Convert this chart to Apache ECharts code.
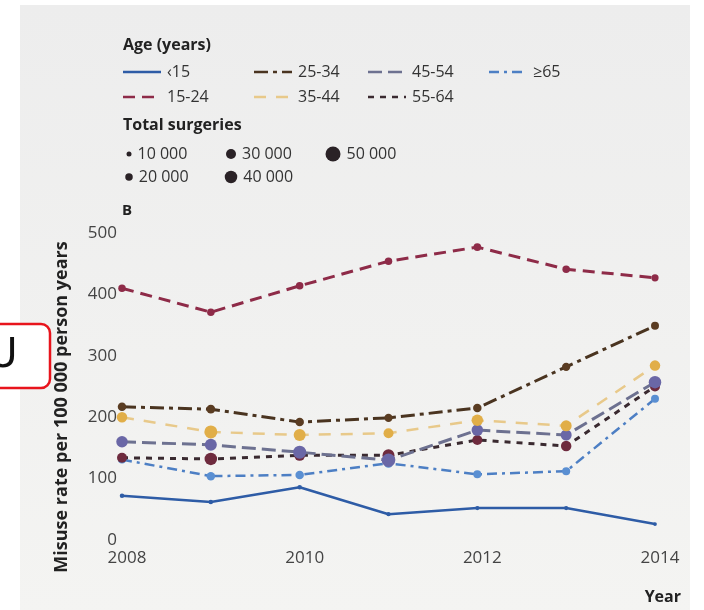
<!DOCTYPE html>
<html>
<head>
<meta charset="utf-8">
<script src="https://cdn.jsdelivr.net/npm/echarts@6/dist/echarts.min.js"></script>
<style>
  html, body { margin: 0; padding: 0; background: #ffffff; }
  #chart { width: 704px; height: 610px; }
</style>
</head>
<body>
<div id="chart"></div>
<script>
// Years on the x axis
const years = [2008, 2009, 2010, 2011, 2012, 2013, 2014];

// Misuse rate per 100 000 person years, by age band
const rateUnder15 = [72, 62, 86, 42, 52, 52, 26];
const rate15to24 = [410, 371, 414, 454, 477, 441, 427];
const rate25to34 = [217, 213, 192, 199, 215, 282, 349];
const rate35to44 = [200, 176, 171, 174, 195, 186, 284];
const rate45to54 = [160, 155, 143, 130, 179, 171, 257];
const rate55to64 = [134, 132, 138, 138, 163, 153, 250];
const rate65plus = [131, 104, 106, 125, 107, 112, 230];

// Total surgeries behind each point (thousands)
const surgUnder15 = [8, 8, 8, 7, 7, 7, 5];
const surg15to24 = [20, 20, 20, 20, 21, 20, 19];
const surg25to34 = [24, 25, 24, 23, 24, 23, 22];
const surg35to44 = [32, 42, 38, 30, 36, 34, 32];
const surg45to54 = [36, 38, 42, 44, 36, 34, 40];
const surg55to64 = [30, 40, 34, 38, 30, 32, 30];
const surg65plus = [22, 24, 24, 26, 22, 22, 22];

// Axis ticks
const yTicks = [0, 100, 200, 300, 400, 500];
const xTicks = [2008, 2010, 2012, 2014];

// Size key values (surgeries)
const sizeKey = [10000, 20000, 30000, 40000, 50000];

const FONT = '"Open Sans", "Noto Sans", sans-serif';

// diameter of a point for a number of surgeries given in thousands
function dotSize(k) { return 2.5 + 0.25 * k; }

const groups = [
  { name: '‹15',   rate: rateUnder15, surg: surgUnder15, line: '#2e5ca6', dot: '#2e5ca6', dash: 'solid',        width: 2.5 },
  { name: '15-24', rate: rate15to24,  surg: surg15to24,  line: '#8e2b48', dot: '#8e2b48', dash: [12, 7],        width: 3 },
  { name: '25-34', rate: rate25to34,  surg: surg25to34,  line: '#4a3420', dot: '#5a3c22', dash: [14, 5, 4, 5],  width: 3 },
  { name: '35-44', rate: rate35to44,  surg: surg35to44,  line: '#e8c98a', dot: '#e1ae48', dash: [12, 10],       width: 2.5 },
  { name: '45-54', rate: rate45to54,  surg: surg45to54,  line: '#6d7190', dot: '#6a67a6', dash: [14, 6],        width: 3 },
  { name: '55-64', rate: rate55to64,  surg: surg55to64,  line: '#3a2a30', dot: '#6e2b3e', dash: [6, 6],         width: 3 },
  { name: '≥65',   rate: rate65plus,  surg: surg65plus,  line: '#4d7fc4', dot: '#5a8fd2', dash: [10, 5, 3, 5],  width: 2.5 }
];

const series = groups.map(function (g, gi) {
  return {
    name: g.name,
    type: 'line',
    z: 10 - gi,
    symbol: 'circle',
    symbolSize: function (val, params) { return dotSize(g.surg[params.dataIndex]); },
    data: years.map(function (y, i) { return [y, g.rate[i]]; }),
    lineStyle: { color: g.line, width: g.width, type: g.dash },
    itemStyle: { color: g.dot },
    emphasis: { disabled: true },
    animation: false
  };
});

// ---- key drawn with graphic elements ----
const graphics = [];

// page panel
graphics.push({
  type: 'rect', z: -10, silent: true,
  shape: { x: 20, y: 5, width: 670, height: 610 },
  style: { fill: new echarts.graphic.LinearGradient(0, 0, 0, 1, [
    { offset: 0, color: '#ededed' }, { offset: 1, color: '#f4f4f2' }
  ]) }
});

function text(x, y, str, opts) {
  graphics.push({
    type: 'text', x: x, y: y, z: 20,
    style: Object.assign({ text: str, fill: '#222', font: '16px ' + FONT, textVerticalAlign: 'middle' }, opts || {})
  });
}
function keyLine(x, y, len, g) {
  graphics.push({
    type: 'line', z: 20,
    shape: { x1: x, y1: y, x2: x + len, y2: y },
    style: { stroke: g.line, lineWidth: 2.5, lineDash: g.dash === 'solid' ? null : g.dash }
  });
}

text(123, 45, 'Age (years)', { font: 'bold 16px ' + FONT });

const keyPos = {
  '‹15':   [123, 72],  '25-34': [254, 72], '45-54': [368, 72], '≥65': [489, 72],
  '15-24': [123, 97],  '35-44': [254, 97], '55-64': [368, 97]
};
groups.forEach(function (g) {
  const p = keyPos[g.name];
  keyLine(p[0], p[1], 38, g);
  text(p[0] + 44, p[1], g.name, { fill: '#333' });
});

text(123, 125, 'Total surgeries', { font: 'bold 16px ' + FONT });

const sizePos = [[129, 154], [129, 177], [231, 154], [231, 177], [333, 154]];
sizeKey.forEach(function (s, i) {
  const d = dotSize(s / 1000);
  const p = sizePos[i];
  graphics.push({ type: 'circle', z: 20, shape: { cx: p[0], cy: p[1], r: d / 2 }, style: { fill: '#2a2226' } });
  const label = String(s).replace(/(\d+)(\d{3})$/, '$1 $2');
  text(p[0] + d / 2 + 6, p[1], label, { fill: '#333' });
});

text(122, 211, 'B', { font: 'bold 15px ' + FONT });

// axis titles
graphics.push({
  type: 'text', z: 20, x: 62, y: 407, rotation: Math.PI / 2,
  style: { text: 'Misuse rate per 100 000 person years', fill: '#222', font: 'bold 18px ' + FONT,
           textAlign: 'center', textVerticalAlign: 'middle' }
});
text(681, 597, 'Year', { font: 'bold 16px ' + FONT, textAlign: 'right' });

// tab marker at the left edge
graphics.push({
  type: 'rect', z: 30,
  shape: { x: -20, y: 324, width: 70, height: 64, r: 9 },
  style: { fill: '#ffffff', stroke: '#e8141c', lineWidth: 2.5 }
});
graphics.push({
  type: 'text', z: 31, x: 3, y: 357,
  style: { text: 'U', fill: '#111', font: '40px "DejaVu Sans", sans-serif', textAlign: 'center', textVerticalAlign: 'middle' }
});

const chart = echarts.init(document.getElementById('chart'), null, { renderer: 'canvas' });
chart.setOption({
  animation: false,
  backgroundColor: '#ffffff',
  textStyle: { fontFamily: FONT },
  grid: { left: 122, top: 233, width: 533, height: 307, containLabel: false },
  xAxis: {
    type: 'value', min: xTicks[0], max: xTicks[xTicks.length - 1], interval: 2,
    axisLine: { show: false }, axisTick: { show: false }, splitLine: { show: false },
    axisLabel: { color: '#444', fontSize: 17, margin: 10, padding: [0, 0, 0, 10],
                 formatter: function (v) { return String(v); } }
  },
  yAxis: {
    type: 'value', min: yTicks[0], max: yTicks[yTicks.length - 1], interval: 100,
    axisLine: { show: false }, axisTick: { show: false }, splitLine: { show: false },
    axisLabel: { color: '#444', fontSize: 17, margin: 5 }
  },
  series: series,
  graphic: graphics
});
</script>
</body>
</html>
